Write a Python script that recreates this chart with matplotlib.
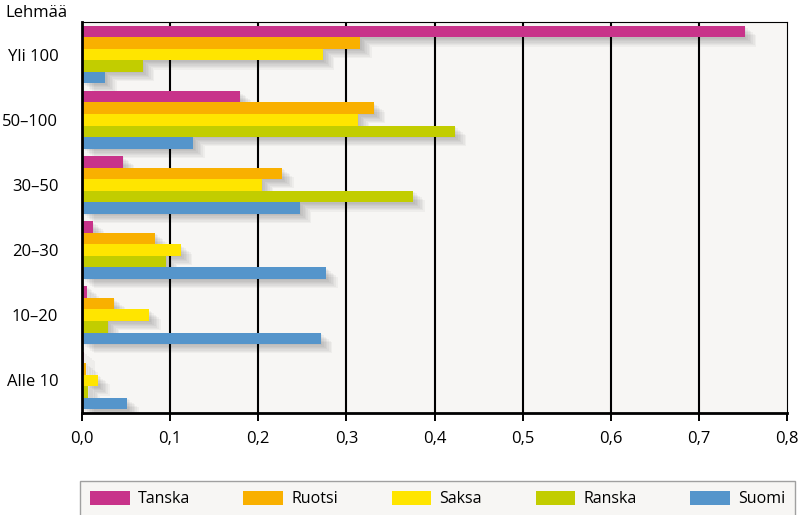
import numpy as np
import matplotlib
matplotlib.use("Agg")
import matplotlib.pyplot as plt
from matplotlib.transforms import ScaledTranslation

plt.rcParams['font.family'] = ['Open Sans', 'DejaVu Sans']

categories = ["Alle 10", "10–20", "20–30", "30–50", "50–100", "Yli 100"]
series = ["Tanska", "Ruotsi", "Saksa", "Ranska", "Suomi"]
colors = ["#c8338a", "#f9b000", "#ffe500", "#c2cd00", "#5595cb"]

# values per size class, from Alle 10 up to Yli 100
tanska = [0.002, 0.006, 0.012, 0.046, 0.179, 0.752]
ruotsi = [0.005, 0.036, 0.083, 0.227, 0.331, 0.316]
saksa = [0.018, 0.076, 0.112, 0.204, 0.313, 0.273]
ranska = [0.007, 0.029, 0.095, 0.376, 0.423, 0.069]
suomi = [0.051, 0.271, 0.277, 0.247, 0.126, 0.026]
values = [tanska, ruotsi, saksa, ranska, suomi]

xticks = [0.0, 0.1, 0.2, 0.3, 0.4, 0.5, 0.6, 0.7, 0.8]
xticklabels = ["0,0", "0,1", "0,2", "0,3", "0,4", "0,5", "0,6", "0,7", "0,8"]

fig = plt.figure(figsize=(8.06, 5.15), dpi=100)
ax = fig.add_axes([82 / 806, 1 - 413 / 515, 705 / 806, 391 / 515])
ax.set_facecolor("#f7f6f4")

y = np.arange(len(categories))
h = 0.177
offsets = [2 * h, h, 0, -h, -2 * h]

# soft drop shadow behind the bars
for k in range(7):
    d = (k + 1) / 72.0 * 1.2
    tr = ax.transData + ScaledTranslation(d, -d * 0.8, fig.dpi_scale_trans)
    for vals, off in zip(values, offsets):
        ax.barh(y + off, vals, height=h, color="#000000", alpha=0.035,
                linewidth=0, transform=tr, zorder=2)

for name, vals, col, off in zip(series, values, colors, offsets):
    ax.barh(y + off, vals, height=h, color=col, linewidth=0, label=name, zorder=3)

ax.set_xlim(0, 0.8)
ax.set_ylim(-0.5, 5.5)
ax.set_xticks(xticks)
ax.set_xticklabels(xticklabels, fontsize=12)
ax.set_yticks(y)
ax.set_yticklabels(categories, fontsize=12)
ax.tick_params(axis='y', length=0, pad=17)
ax.tick_params(axis='x', length=6, width=1.4, direction='out', pad=7)

for xv in xticks[1:-1]:
    ax.axvline(xv, color="black", linewidth=1.5, zorder=1)

ax.spines['left'].set_linewidth(2)
ax.spines['bottom'].set_linewidth(2)
ax.spines['top'].set_linewidth(0.8)
ax.spines['right'].set_linewidth(0.8)
for s in ax.spines.values():
    s.set_zorder(5)

fig.text(5 / 806, 1 - 13 / 515, "Lehmää", fontsize=12, va='center', ha='left')

handles, labels = ax.get_legend_handles_labels()
leg = fig.legend(handles, labels, ncol=5, mode='expand', loc='upper left',
                 bbox_to_anchor=(80 / 806, 0, 715 / 806, 1 - 481 / 515),
                 fontsize=11.5, handlelength=2.5, handleheight=1.0,
                 handletextpad=0.5, borderaxespad=0, borderpad=0.6,
                 fancybox=False, frameon=True)
leg.get_frame().set_facecolor("#f7f6f4")
leg.get_frame().set_edgecolor("#a0a0a0")
leg.get_frame().set_linewidth(1)
leg.get_frame().set_alpha(1)

fig.savefig("out.png", dpi=100)
